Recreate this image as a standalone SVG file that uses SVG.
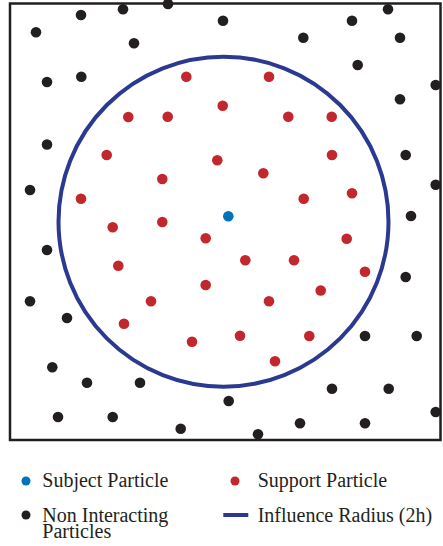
<svg xmlns="http://www.w3.org/2000/svg" width="443" height="546" viewBox="0 0 443 546">
<style>
.k{fill:#231f20}
.r{fill:#c1272d}
.b{fill:#0071bc}
.t{font-family:"Liberation Serif",serif;font-size:20px;fill:#231f20}
</style>
<rect width="443" height="546" fill="#fff"/>
<g id="frame"><rect x="10" y="3.5" width="430.5" height="436.5" fill="none" stroke="#231f20" stroke-width="2.5"/></g>
<g id="connectors"><circle cx="223.5" cy="221.7" r="165" fill="none" stroke="#2b3990" stroke-width="4"/></g>
<g id="non-interacting">
<circle class="k" cx="81" cy="15" r="5.3"/><circle class="k" cx="123" cy="9.3" r="5.3"/><circle class="k" cx="168" cy="4" r="5.3"/><circle class="k" cx="223" cy="20.7" r="5.3"/><circle class="k" cx="352" cy="20.7" r="5.3"/><circle class="k" cx="388" cy="9.3" r="5.3"/><circle class="k" cx="36" cy="32.3" r="5.3"/><circle class="k" cx="134" cy="43.3" r="5.3"/><circle class="k" cx="303.3" cy="37.7" r="5.3"/><circle class="k" cx="400" cy="37.7" r="5.3"/><circle class="k" cx="47" cy="82" r="5.3"/><circle class="k" cx="81.3" cy="76.7" r="5.3"/><circle class="k" cx="357.7" cy="65" r="5.3"/><circle class="k" cx="435.7" cy="85" r="5.3"/><circle class="k" cx="400" cy="99.3" r="5.3"/><circle class="k" cx="47" cy="144.5" r="5.3"/><circle class="k" cx="30" cy="190" r="5.3"/><circle class="k" cx="47" cy="250" r="5.3"/><circle class="k" cx="405.7" cy="155" r="5.3"/><circle class="k" cx="435.7" cy="184.7" r="5.3"/><circle class="k" cx="411" cy="216" r="5.3"/><circle class="k" cx="405.7" cy="277" r="5.3"/><circle class="k" cx="30" cy="301.3" r="5.3"/><circle class="k" cx="67" cy="318" r="5.3"/><circle class="k" cx="52.3" cy="367.3" r="5.3"/><circle class="k" cx="87" cy="382.7" r="5.3"/><circle class="k" cx="140" cy="382.7" r="5.3"/><circle class="k" cx="58" cy="417" r="5.3"/><circle class="k" cx="112.7" cy="417" r="5.3"/><circle class="k" cx="228.7" cy="401" r="5.3"/><circle class="k" cx="180.7" cy="428.7" r="5.3"/><circle class="k" cx="258" cy="434.3" r="5.3"/><circle class="k" cx="365" cy="336" r="5.3"/><circle class="k" cx="416.7" cy="336" r="5.3"/><circle class="k" cx="332" cy="388.7" r="5.3"/><circle class="k" cx="388.7" cy="388.7" r="5.3"/><circle class="k" cx="435.7" cy="412" r="5.3"/><circle class="k" cx="300" cy="423.3" r="5.3"/><circle class="k" cx="365" cy="423.3" r="5.3"/>
</g>
<g id="support">
<circle class="r" cx="186.3" cy="76.7" r="5.3"/><circle class="r" cx="269" cy="76.7" r="5.3"/><circle class="r" cx="222.7" cy="105.7" r="5.3"/><circle class="r" cx="128.3" cy="117" r="5.3"/><circle class="r" cx="167.7" cy="116.7" r="5.3"/><circle class="r" cx="288.3" cy="116.7" r="5.3"/><circle class="r" cx="331.7" cy="116.7" r="5.3"/><circle class="r" cx="106.7" cy="155" r="5.3"/><circle class="r" cx="217.3" cy="160.3" r="5.3"/><circle class="r" cx="332" cy="155" r="5.3"/><circle class="r" cx="263.3" cy="173.3" r="5.3"/><circle class="r" cx="162.3" cy="179" r="5.3"/><circle class="r" cx="81" cy="198.7" r="5.3"/><circle class="r" cx="303.7" cy="198.7" r="5.3"/><circle class="r" cx="352" cy="193.3" r="5.3"/><circle class="r" cx="162.3" cy="222" r="5.3"/><circle class="r" cx="112.7" cy="227.3" r="5.3"/><circle class="r" cx="205.7" cy="238.3" r="5.3"/><circle class="r" cx="346.7" cy="238.7" r="5.3"/><circle class="r" cx="118.3" cy="265.7" r="5.3"/><circle class="r" cx="245.3" cy="260.3" r="5.3"/><circle class="r" cx="294" cy="260.3" r="5.3"/><circle class="r" cx="365" cy="271.7" r="5.3"/><circle class="r" cx="205.7" cy="285" r="5.3"/><circle class="r" cx="320.7" cy="290.5" r="5.3"/><circle class="r" cx="151" cy="301.3" r="5.3"/><circle class="r" cx="269" cy="301.3" r="5.3"/><circle class="r" cx="124" cy="323.7" r="5.3"/><circle class="r" cx="192" cy="341.7" r="5.3"/><circle class="r" cx="240" cy="335.7" r="5.3"/><circle class="r" cx="309.3" cy="336" r="5.3"/><circle class="r" cx="275" cy="361.3" r="5.3"/>
</g>
<g id="subject"><circle class="b" cx="228.3" cy="216.3" r="5.3"/></g>
<g id="legend">
<circle class="b" cx="26" cy="481" r="4.5"/>
<text class="t" x="42.3" y="487">Subject Particle</text>
<circle class="r" cx="235" cy="481" r="4.5"/>
<text class="t" x="257.7" y="487">Support Particle</text>
<circle class="k" cx="26" cy="515" r="4.5"/>
<text class="t" x="42.3" y="521.5">Non Interacting</text>
<text class="t" x="42.3" y="538.3">Particles</text>
<line x1="223.3" y1="515" x2="248.3" y2="515" stroke="#2b3990" stroke-width="4"/>
<text class="t" x="257.7" y="521.5">Influence Radius (2h)</text>
</g>
</svg>
